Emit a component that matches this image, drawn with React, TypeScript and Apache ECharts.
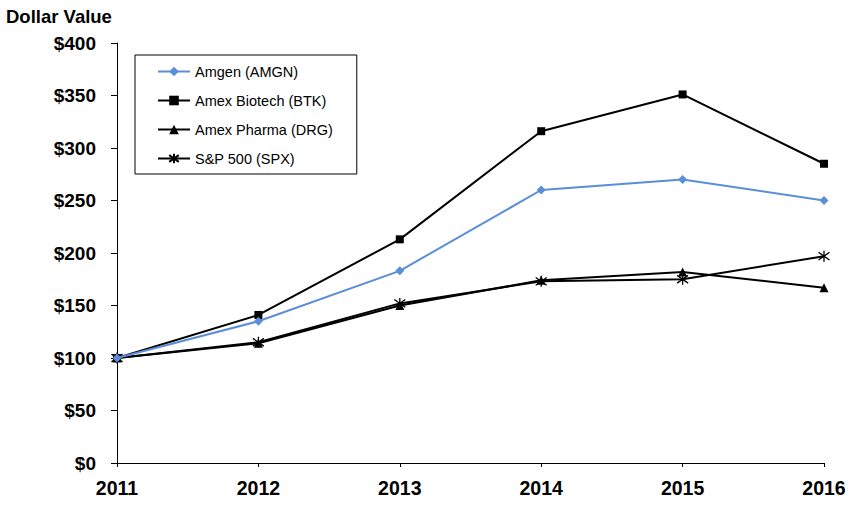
import React, { useEffect, useRef } from "react";
import * as echarts from "echarts";

const years = ["2011", "2012", "2013", "2014", "2015", "2016"];
const amgn = [100, 135, 183, 260, 270, 250];
const btk = [100, 141, 213, 316, 351, 285];
const drg = [100, 114, 150, 174, 182, 167];
const spx = [100, 115, 152, 173, 175, 197];

const seriesNames = ["Amgen (AMGN)", "Amex Biotech (BTK)", "Amex Pharma (DRG)", "S&P 500 (SPX)"];

const FONT = "Arial, 'Liberation Sans', sans-serif";
const STAR = "path://M0,1.5L10,8.5M10,1.5L0,8.5M5,0L5,10";

export default function App() {
  const ref = useRef<HTMLDivElement>(null);
  useEffect(() => {
    if (!ref.current) return;
    const chart = echarts.init(ref.current, undefined, { renderer: "svg" });
    chart.setOption({
      animation: false,
      backgroundColor: "#fff",
      title: {
        text: "Dollar Value",
        left: 6,
        top: 7,
        padding: 0,
        textStyle: { fontFamily: FONT, fontWeight: "bold", fontSize: 18.5, color: "#000" },
      },
      legend: {
        orient: "vertical",
        left: 135,
        top: 55,
        width: 220,
        padding: [9, 24, 8, 22],
        itemGap: 14,
        itemWidth: 32,
        itemHeight: 12,
        borderColor: "#000",
        borderWidth: 1,
        backgroundColor: "#fff",
        textStyle: { fontFamily: FONT, fontSize: 14.5, color: "#000" },
        data: seriesNames,
      },
      grid: { left: 117, right: 25, top: 43, bottom: 43, containLabel: false },
      xAxis: {
        type: "category",
        data: years,
        boundaryGap: false,
        axisLine: { lineStyle: { color: "#000", width: 1 } },
        axisTick: { show: true, inside: false, length: 4, lineStyle: { color: "#000" } },
        axisLabel: { fontFamily: FONT, fontWeight: "bold", fontSize: 19.5, color: "#000", margin: 15 },
        splitLine: { show: false },
      },
      yAxis: {
        type: "value",
        min: 0,
        max: 400,
        interval: 50,
        axisLine: { show: true, lineStyle: { color: "#000", width: 1 } },
        axisTick: { show: true, inside: false, length: 6, lineStyle: { color: "#000" } },
        axisLabel: {
          fontFamily: FONT,
          fontWeight: "bold",
          fontSize: 19,
          color: "#000",
          margin: 21,
          formatter: (v: number) => "$" + v,
        },
        splitLine: { show: false },
      },
      series: [
        {
          name: seriesNames[0],
          type: "line",
          data: amgn,
          symbol: "diamond",
          symbolSize: 9,
          itemStyle: { color: "#5A8ED8" },
          lineStyle: { color: "#5A8ED8", width: 2 },
          z: 4,
        },
        {
          name: seriesNames[1],
          type: "line",
          data: btk,
          symbol: "rect",
          symbolSize: 8,
          itemStyle: { color: "#000" },
          lineStyle: { color: "#000", width: 2 },
          z: 3,
        },
        {
          name: seriesNames[2],
          type: "line",
          data: drg,
          symbol: "triangle",
          symbolSize: 9,
          itemStyle: { color: "#000" },
          lineStyle: { color: "#000", width: 2 },
          z: 2,
        },
        {
          name: seriesNames[3],
          type: "line",
          data: spx,
          symbol: STAR,
          symbolSize: 11,
          itemStyle: { color: "none", borderColor: "#000", borderWidth: 1.3 },
          lineStyle: { color: "#000", width: 2 },
          z: 2,
        },
      ],
    });
    return () => chart.dispose();
  }, []);
  return (
    <div
      ref={ref}
      style={{ position: "fixed", left: 0, top: 0, width: 849, height: 506 }}
    />
  );
}
